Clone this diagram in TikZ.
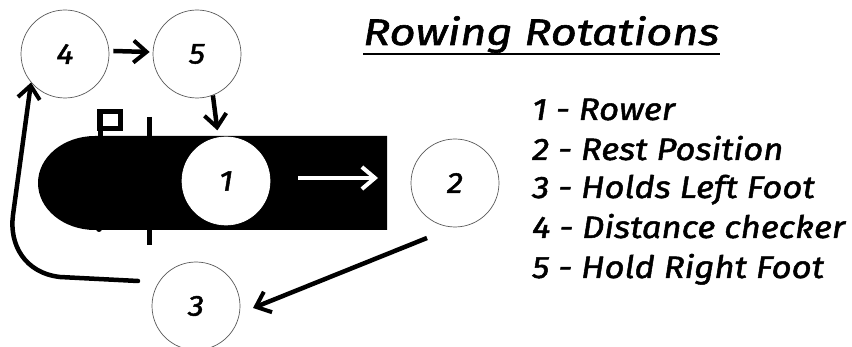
\documentclass[tikz,border=0pt]{standalone}
\usepackage{fontspec}
\setmainfont{Fira Sans}
\newfontfamily\handleg{Fira Sans}[FakeStretch=1.12,FakeBold=1.6]
\newfontfamily\handtit{Fira Sans}[FakeStretch=1.22,FakeBold=1.6]
\usetikzlibrary{arrows.meta,calc}
\begin{document}
\begin{tikzpicture}[x=1pt,y=-1pt,
  spot/.style={circle,draw=black!65,line width=0.7pt,minimum size=88pt,inner sep=0pt,font=\handleg\fontsize{29}{30}\selectfont\itshape},
  arr/.style={line width=4.5pt,-{Straight Barb[length=13pt,width=22pt,line width=4pt]}},
  legend/.style={anchor=base west,inner sep=0pt,font=\handleg\fontsize{31}{32}\selectfont\itshape},
  boat/.style={fill=black}]
\useasboundingbox (0,0) rectangle (852,347);
% boat
\fill[boat] (387,136) -- (95,136) arc[start angle=-90,end angle=-270,x radius=57,y radius=47] -- (387,230) -- cycle;
\draw[line width=5pt] (100,111) -- (100,136);
\draw[line width=5pt] (99.5,111.5) rectangle (120.5,128.5);
\draw[line width=5pt] (149,117) -- (149,245);
\fill (99,229) circle[radius=3];
% circles
\node[spot] (c4) at (65,54) {4};
\node[spot] (c5) at (197,54) {5};
\node[spot,fill=white,draw=white] (c1) at (226,181) {1};
\node[spot] (c2) at (455,183) {2};
\node[spot] (c3) at (196,306) {3};
\coordinate (w1) at (298,178);
\coordinate (w2) at (378,178);
\draw[arr,white,line width=4pt] (w1) -- (w2);
% connectors
\draw[arr] (c4.east) ++(4,-3) coordinate (a45) (a45) -- ($(c5.west)+(-3,-2)$);
\draw[arr,shorten >=7pt] (c5.-69) -- (c1.100);
\draw[arr] ($(c2)+(-28,55)$) -- ($(c3)+(57,2)$);
\draw[arr,line cap=round] ($(c3)+(-58,-25)$) -- (60,277) .. controls (25,273) and (9,245) .. (13,215) -- (c4.220);
% title
\node[anchor=base west,inner sep=0pt,font=\handtit\fontsize{37}{38}\selectfont\itshape] (title) at (363,45) {Rowing Rotations};
\draw[line width=1.2pt] ([yshift=-9pt]title.base west) -- ([yshift=-9pt]title.base east);
% legend
\node[legend] (l1) at (532,120) {1 - Rower};
\node[legend] (l2) at (532,160) {2 - Rest Position};
\node[legend] (l3) at (532,198) {3 - Holds Left Foot};
\node[legend] (l4) at (532,238) {4 - Distance checker};
\node[legend] (l5) at (532,278) {5 - Hold Right Foot};
\end{tikzpicture}
\end{document}
